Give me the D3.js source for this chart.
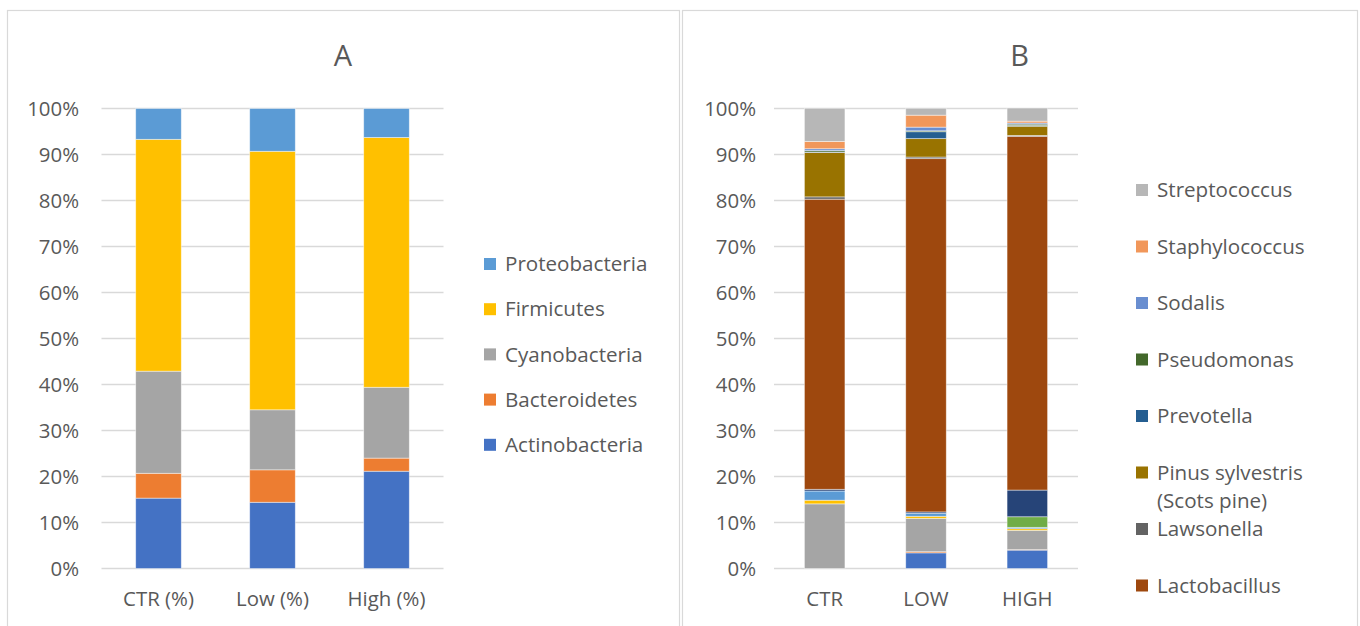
<!DOCTYPE html>
<html>
<head>
<meta charset="utf-8">
<script src="https://cdn.jsdelivr.net/npm/d3@7"></script>
<style>
  html, body { margin: 0; padding: 0; background: #fff; }
  svg { display: block; }
  text { font-family: "Open Sans", "Liberation Sans", sans-serif; fill: #595959; }
</style>
</head>
<body>
<svg id="chart" width="1360" height="626"></svg>
<script>
// ---- Panel A: phylum-level relative abundance ----
const groupsA = ["CTR (%)", "Low (%)", "High (%)"];
const phyla = ["Actinobacteria", "Bacteroidetes", "Cyanobacteria", "Firmicutes", "Proteobacteria"];
const phylaColors = ["#4472C4", "#ED7D31", "#A5A5A5", "#FFC000", "#5B9BD5"];
const actinobacteria = [15.3, 14.4, 21.15];
const bacteroidetes  = [5.4, 7.05, 2.85];
const cyanobacteria  = [22.2, 13.05, 15.4];
const firmicutes     = [50.4, 56.2, 54.3];
const proteobacteria = [6.7, 9.3, 6.3];

// ---- Panel B: genus-level relative abundance ----
const groupsB = ["CTR", "LOW", "HIGH"];
const genera = ["Genus 1", "Genus 2", "Genus 3", "Genus 4", "Genus 5", "Genus 6", "Genus 7",
  "Lactobacillus", "Lawsonella", "Pinus sylvestris (Scots pine)", "Prevotella",
  "Pseudomonas", "Sodalis", "Staphylococcus", "Streptococcus"];
const generaColors = ["#4472C4", "#ED7D31", "#A5A5A5", "#FFC000", "#5B9BD5", "#70AD47", "#264478",
  "#9E480E", "#636363", "#997300", "#255E91", "#43682B", "#698ED0", "#F1975A", "#B7B7B7"];
const genus1 = [0, 3.4, 4.0];
const genus2 = [0, 0.25, 0.1];
const genus3 = [14.05, 7.25, 4.2];
const genus4 = [0.8, 0.45, 0.35];
const genus5 = [2.0, 0.65, 0.3];
const genus6 = [0, 0, 2.3];
const genus7 = [0.37, 0.3, 5.8];
const lactobacillus = [63.07, 76.8, 76.9];
const lawsonella = [0.5, 0.35, 0.2];
const pinusSylvestris = [9.66, 4.0, 2.0];
const prevotella = [0.1, 1.5, 0.15];
const pseudomonas = [0.3, 0.2, 0.3];
const sodalis = [0.4, 0.8, 0.25];
const staphylococcus = [1.6, 2.6, 0.4];
const streptococcus = [7.2, 1.5, 2.85];
// legend lists the last eight genera, top to bottom
const legendB = ["Streptococcus", "Staphylococcus", "Sodalis", "Pseudomonas", "Prevotella",
  "Pinus sylvestris (Scots pine)", "Lawsonella", "Lactobacillus"];

const yTicks = [0, 10, 20, 30, 40, 50, 60, 70, 80, 90, 100];

const svg = d3.select("#chart");
const GRID = "#d9d9d9";

function buildRows(groups, keys, seriesArrays) {
  return groups.map((g, i) => {
    const row = { group: g };
    keys.forEach((k, j) => { row[k] = seriesArrays[j][i]; });
    return row;
  });
}

function drawPanel(cfg) {
  const g = svg.append("g");
  // panel frame
  g.append("rect")
    .attr("x", cfg.frame[0] + 0.5).attr("y", 10.5)
    .attr("width", cfg.frame[1] - cfg.frame[0]).attr("height", 640)
    .attr("fill", "#fff").attr("stroke", GRID).attr("stroke-width", 1.2);

  g.append("text")
    .attr("x", (cfg.frame[0] + cfg.frame[1]) / 2).attr("y", 66)
    .attr("text-anchor", "middle")
    .style("font-size", "29px")
    .text(cfg.title);

  const x = d3.scaleBand().domain(cfg.groups).range(cfg.xRange).padding(0);
  const y = d3.scaleLinear().domain([0, 100]).range([568.5, 108.5]);

  // gridlines
  g.append("g").selectAll("line").data(yTicks).join("line")
    .attr("x1", cfg.xRange[0]).attr("x2", cfg.xRange[1])
    .attr("y1", d => y(d)).attr("y2", d => y(d))
    .attr("stroke", GRID).attr("stroke-width", 1.6);

  // y axis labels
  const yAxis = d3.axisLeft(y).tickValues(yTicks).tickFormat(d => d + "%").tickSize(0).tickPadding(0);
  const ya = g.append("g").attr("transform", `translate(${cfg.yLabelX},0)`).call(yAxis);
  ya.select(".domain").remove();
  ya.selectAll("text").style("font-size", "20.4px").attr("fill", "#595959").attr("dy", "0.35em");

  // x axis labels
  const xAxis = d3.axisBottom(x).tickSize(0).tickPadding(0);
  const xa = g.append("g").attr("transform", "translate(0,599)").call(xAxis);
  xa.select(".domain").remove();
  xa.selectAll("text").style("font-size", "20.4px").attr("fill", "#595959").attr("dy", "0.35em");

  // stacked bars
  const rows = buildRows(cfg.groups, cfg.keys, cfg.series);
  const stack = d3.stack().keys(cfg.keys)(rows);
  const bw = x.bandwidth() * 0.4;
  const layers = g.append("g").selectAll("g").data(stack).join("g")
    .attr("fill", (d, i) => cfg.colors[i]);
  layers.selectAll("rect").data(d => d).join("rect")
    .attr("x", d => x(d.data.group) + (x.bandwidth() - bw) / 2)
    .attr("width", bw)
    .attr("y", d => y(d[1]))
    .attr("height", d => Math.max(0, y(d[0]) - y(d[1])))
    .attr("stroke", "#fff").attr("stroke-opacity", 0.55).attr("stroke-width", 0.8);

  // legend
  const lg = g.append("g");
  cfg.legend.forEach((name, i) => {
    const idx = cfg.keys.indexOf(name);
    const cy = cfg.legendY0 + i * cfg.legendStep;
    lg.append("rect")
      .attr("x", cfg.legendX).attr("y", cy - 6)
      .attr("width", 12).attr("height", 12)
      .attr("fill", cfg.colors[idx]);
    const lines = cfg.wrap[name] || [name];
    const t = lg.append("text")
      .attr("x", cfg.legendX + 21).attr("y", cy)
      .style("font-size", "20.6px");
    lines.forEach((ln, k) => {
      t.append("tspan").attr("x", cfg.legendX + 21)
        .attr("dy", k === 0 ? "0.35em" : "1.38em").text(ln);
    });
  });
}

drawPanel({
  title: "A",
  frame: [7, 679],
  groups: groupsA,
  keys: phyla,
  colors: phylaColors,
  series: [actinobacteria, bacteroidetes, cyanobacteria, firmicutes, proteobacteria],
  xRange: [101.5, 443.5],
  yLabelX: 79,
  legend: phyla.slice().reverse(),
  legendX: 484,
  legendY0: 264,
  legendStep: 45.2,
  wrap: {}
});

drawPanel({
  title: "B",
  frame: [682, 1357],
  groups: groupsB,
  keys: genera,
  colors: generaColors,
  series: [genus1, genus2, genus3, genus4, genus5, genus6, genus7, lactobacillus, lawsonella,
    pinusSylvestris, prevotella, pseudomonas, sodalis, staphylococcus, streptococcus],
  xRange: [774, 1078],
  yLabelX: 756,
  legend: legendB,
  legendX: 1136,
  legendY0: 190,
  legendStep: 56.5,
  wrap: { "Pinus sylvestris (Scots pine)": ["Pinus sylvestris", "(Scots pine)"] }
});
</script>
</body>
</html>
